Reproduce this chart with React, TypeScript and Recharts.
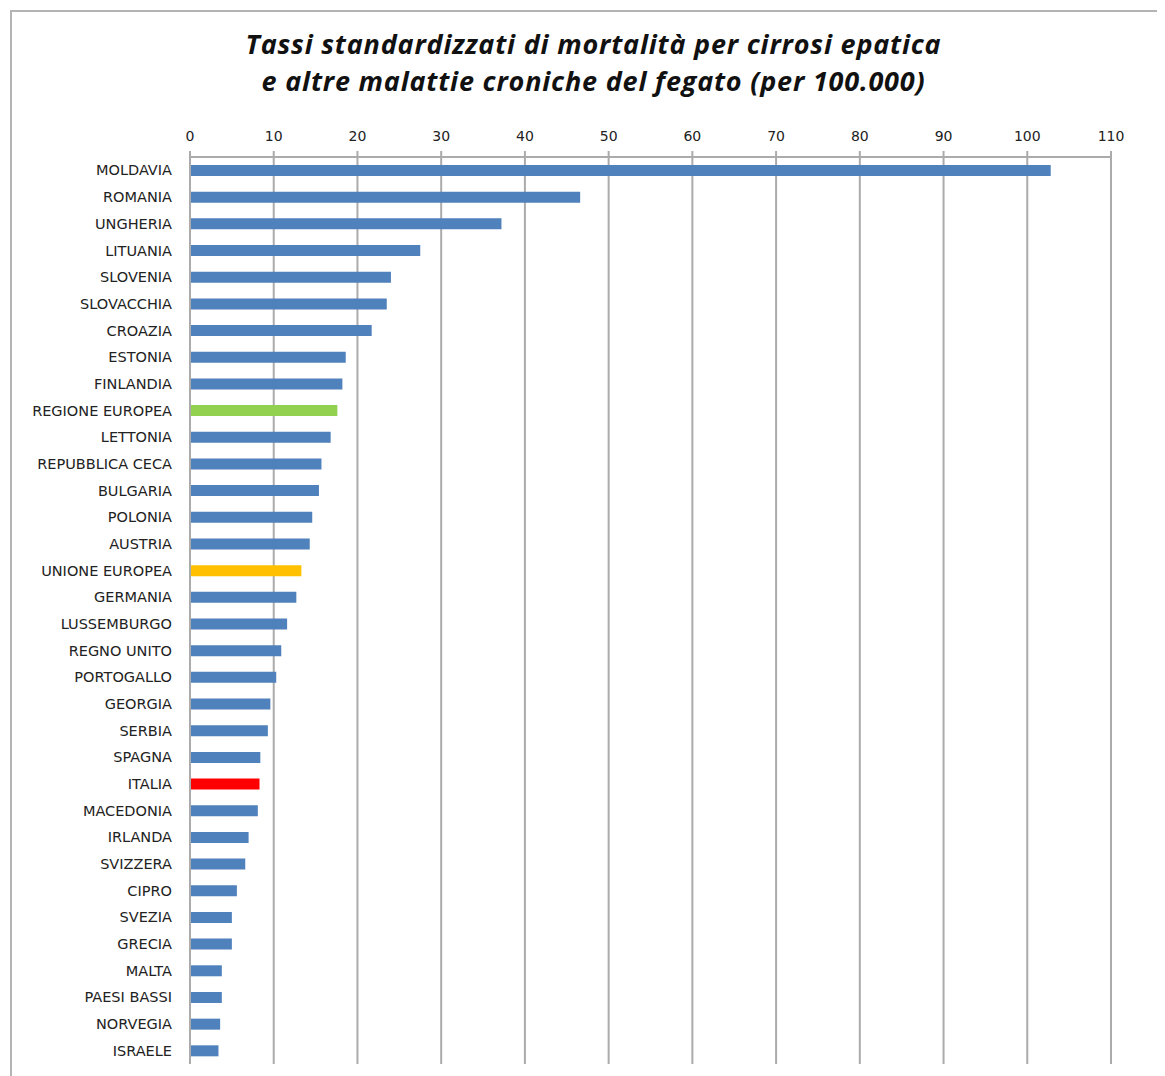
import React from 'react';
import { BarChart, Bar, XAxis, YAxis, CartesianGrid, Cell } from 'recharts';

const countries = [
  'MOLDAVIA', 'ROMANIA', 'UNGHERIA', 'LITUANIA', 'SLOVENIA', 'SLOVACCHIA', 'CROAZIA',
  'ESTONIA', 'FINLANDIA', 'REGIONE EUROPEA', 'LETTONIA', 'REPUBBLICA CECA', 'BULGARIA',
  'POLONIA', 'AUSTRIA', 'UNIONE EUROPEA', 'GERMANIA', 'LUSSEMBURGO', 'REGNO UNITO',
  'PORTOGALLO', 'GEORGIA', 'SERBIA', 'SPAGNA', 'ITALIA', 'MACEDONIA', 'IRLANDA',
  'SVIZZERA', 'CIPRO', 'SVEZIA', 'GRECIA', 'MALTA', 'PAESI BASSI', 'NORVEGIA', 'ISRAELE',
];

const rates = [
  102.8, 46.6, 37.2, 27.5, 24.0, 23.5, 21.7,
  18.6, 18.2, 17.6, 16.8, 15.7, 15.4,
  14.6, 14.3, 13.3, 12.7, 11.6, 10.9,
  10.3, 9.6, 9.3, 8.4, 8.3, 8.1, 7.0,
  6.6, 5.6, 5.0, 5.0, 3.8, 3.8, 3.6, 3.4,
];

const xTicks = [0, 10, 20, 30, 40, 50, 60, 70, 80, 90, 100, 110];

// boundaries between categories, for the small ticks on the left axis
const bandEdges = Array.from({ length: countries.length + 1 }, (_, i) => i);

const highlight: Record<string, string> = {
  'REGIONE EUROPEA': '#92D050',
  'UNIONE EUROPEA': '#FFC000',
  'ITALIA': '#FF0000',
};

const data = countries.map((name, i) => ({ name, value: rates[i] }));

const BLUE = '#4F81BD';
const GRID = '#ababab';

export default function App() {
  return (
    <div
      style={{
        position: 'relative',
        marginLeft: 2,
        marginTop: 2,
        width: 1155,
        height: 1066,
        boxSizing: 'border-box',
        borderTop: '2px solid #b4b4b4',
        borderLeft: '2px solid #b4b4b4',
        background: '#fff',
      }}
    >
      <div
        style={{
          position: 'absolute',
          left: 5,
          top: 13,
          width: 1153,
          textAlign: 'center',
          fontFamily: '"Open Sans", sans-serif',
          fontStyle: 'italic',
          fontWeight: 700,
          fontSize: 27,
          letterSpacing: 0.8,
          lineHeight: '37px',
          color: '#111',
        }}
      >
        Tassi standardizzati di mortalità per cirrosi epatica
        <br />
        e altre malattie croniche del fegato (per 100.000)
      </div>
      <div style={{ position: 'absolute', left: 0, top: 0 }}>
        <BarChart
          width={1153}
          height={1064}
          data={data}
          layout="vertical"
          margin={{ top: 115, right: 54, bottom: 12, left: 10 }}
          barCategoryGap={0}
        >
          <CartesianGrid vertical horizontal={false} stroke={GRID} strokeWidth={2} />
          <XAxis
            type="number"
            orientation="top"
            domain={[0, 110]}
            ticks={xTicks}
            height={30}
            axisLine={{ stroke: GRID, strokeWidth: 2 }}
            tickLine={{ stroke: GRID, strokeWidth: 2 }}
            tickSize={6}
            tickMargin={10}
            tick={{ fill: '#222', fontSize: 14, fontFamily: 'DejaVu Sans' }}
            interval={0}
          />
          <YAxis
            yAxisId="edges"
            type="number"
            domain={[0, countries.length]}
            ticks={bandEdges}
            width={0}
            axisLine={false}
            tick={false}
            tickLine={{ stroke: GRID, strokeWidth: 1.5 }}
            tickSize={5}
            interval={0}
          />
          <YAxis
            type="category"
            dataKey="name"
            width={168}
            axisLine={{ stroke: GRID, strokeWidth: 2 }}
            tickLine={false}
            tickSize={6}
            tickMargin={12}
            interval={0}
            tick={{ fill: '#222', fontSize: 14.5, fontFamily: 'DejaVu Sans' }}
          />
          <Bar dataKey="value" barSize={11} isAnimationActive={false}>
            {data.map((d) => (
              <Cell key={d.name} fill={highlight[d.name] ?? BLUE} />
            ))}
          </Bar>
        </BarChart>
      </div>
    </div>
  );
}
